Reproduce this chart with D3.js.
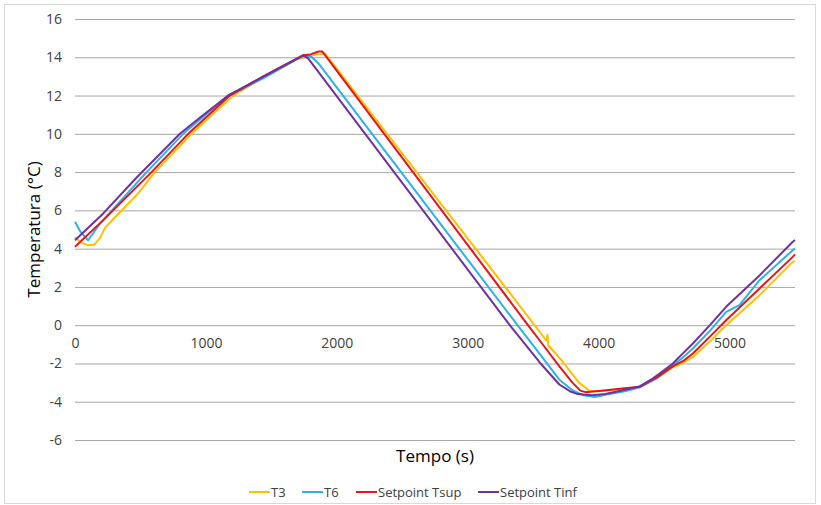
<!DOCTYPE html>
<html>
<head>
<meta charset="utf-8">
<script src="https://cdn.jsdelivr.net/npm/d3@7"></script>
<style>
  html, body { margin: 0; padding: 0; background: #fff; }
  svg { display: block; }
</style>
</head>
<body>
<div id="chart"></div>
<script>
// ── Data ──────────────────────────────────────────────────────────────
const xTicks = [0, 1000, 2000, 3000, 4000, 5000];
const yTicks = [-6, -4, -2, 0, 2, 4, 6, 8, 10, 12, 14, 16];

const seriesNames = ['T3', 'T6', 'Setpoint Tsup', 'Setpoint Tinf'];

const t3Time = [0, 50, 100, 150, 190, 230, 300, 471, 611, 890, 1209, 1440, 1700, 1850, 1910,
  3511, 3600, 3610, 3615, 3700, 3850, 3930, 4000, 4150, 4313, 4450, 4567, 4650, 4720, 4850, 4974,
  5229, 5483, 5500];
const t3Temp = [4.6, 4.3, 4.18, 4.22, 4.55, 5.1, 5.6, 6.8, 8.0, 10.0, 12.0, 12.95, 13.9, 14.15, 14.2,
  0.0, -0.8, -0.5, -1.05, -1.7, -3.0, -3.43, -3.45, -3.35, -3.25, -2.75, -2.2, -1.95, -1.66, -0.85, 0.0,
  1.57, 3.31, 3.35];

const t6Time = [0, 40, 100, 190, 547, 827, 1170, 1437, 1692, 1760, 1810, 1860,
  3380, 3550, 3700, 3800, 3880, 3970, 4080, 4200, 4313, 4450, 4567, 4650, 4720, 4850, 4974, 5076,
  5229, 5483, 5500];
const t6Temp = [5.4, 4.9, 4.44, 5.3, 8.0, 10.0, 12.0, 12.9, 13.89, 14.1, 14.0, 13.68,
  0.0, -1.5, -2.85, -3.4, -3.66, -3.75, -3.6, -3.45, -3.25, -2.75, -2.1, -1.65, -1.22, -0.3, 0.7, 1.05,
  2.35, 3.92, 4.0];

const supTime = [0, 216, 585, 865, 1183, 1437, 1740, 1800, 1860, 1890,
  3460, 3550, 3700, 3800, 3860, 3900, 4060, 4200, 4313, 4450, 4567, 4650, 4720, 4850, 4974,
  5229, 5483, 5500];
const supTemp = [4.1, 5.49, 8.0, 10.0, 12.0, 13.0, 14.1, 14.15, 14.3, 14.3,
  0.0, -0.8, -2.15, -3.0, -3.42, -3.5, -3.4, -3.3, -3.22, -2.7, -2.15, -1.85, -1.48, -0.6, 0.26,
  1.92, 3.57, 3.7];

const infTime = [0, 216, 471, 801, 980, 1180, 1437, 1743, 1781,
  3321, 3550, 3700, 3780, 3840, 3950, 4050, 4150, 4313, 4400, 4466, 4567, 4640, 4720, 4850, 4974,
  5229, 5483, 5500];
const infTemp = [4.44, 5.84, 7.72, 10.0, 10.98, 12.05, 12.98, 14.1, 13.94,
  0.0, -1.95, -3.1, -3.45, -3.6, -3.66, -3.6, -3.45, -3.2, -2.85, -2.53, -2.0, -1.5, -0.96, 0.0, 0.96,
  2.6, 4.36, 4.45];

// ── Setup ─────────────────────────────────────────────────────────────
const width = 821;
const height = 505;
const font = 'Open Sans, Noto Sans, sans-serif';
const colors = ['#FFC000', '#2DB2E8', '#E8141B', '#7030A0'];

const svg = d3.select('#chart')
  .append('svg')
  .attr('width', width)
  .attr('height', height);

// outer chart frame
svg.append('rect')
  .attr('x', 4.5).attr('y', 4.5)
  .attr('width', 811).attr('height', 499)
  .attr('fill', '#fff')
  .attr('stroke', '#d9d9d9')
  .attr('stroke-width', 1);

const x = d3.scaleLinear().domain([0, 5500]).range([75, 795]);
const y = d3.scaleLinear().domain([-6, 16]).range([440, 19]);

// gridlines + y tick labels
const yAxis = d3.axisLeft(y)
  .tickValues(yTicks)
  .tickSize(-(x.range()[1] - x.range()[0]))
  .tickPadding(13)
  .tickFormat(d3.format('d'));

const gy = svg.append('g')
  .attr('transform', `translate(${x.range()[0]},0)`)
  .call(yAxis);
gy.select('.domain').remove();
gy.selectAll('line').attr('stroke', '#a6a6a6').attr('stroke-width', 1);
gy.selectAll('text')
  .attr('fill', '#404040')
  .attr('font-size', '14px')
  .attr('font-family', font)
  .text(d => d < 0 ? '-' + Math.abs(d) : d);

// x tick labels sit under the zero line
const xAxis = d3.axisBottom(x)
  .tickValues(xTicks)
  .tickSize(0)
  .tickPadding(13)
  .tickFormat(d3.format('d'));

const gx = svg.append('g')
  .attr('transform', `translate(0,${y(0)})`)
  .call(xAxis);
gx.select('.domain').remove();
gx.selectAll('text')
  .attr('fill', '#404040')
  .attr('font-size', '14px')
  .attr('font-family', font);

// ── Series ────────────────────────────────────────────────────────────
const line = d3.line()
  .x(d => x(d[0]))
  .y(d => y(d[1]));

const series = [
  d3.zip(t3Time, t3Temp),
  d3.zip(t6Time, t6Temp),
  d3.zip(supTime, supTemp),
  d3.zip(infTime, infTemp)
];

series.forEach((pts, i) => {
  svg.append('path')
    .datum(pts)
    .attr('fill', 'none')
    .attr('stroke', colors[i])
    .attr('stroke-width', 2)
    .attr('stroke-linejoin', 'round')
    .attr('d', line);
});

// ── Axis titles ───────────────────────────────────────────────────────
svg.append('text')
  .attr('transform', `translate(33,${(y.range()[0] + y.range()[1]) / 2}) rotate(-90)`)
  .attr('text-anchor', 'middle')
  .attr('dominant-baseline', 'central')
  .attr('fill', '#000')
  .attr('font-size', '17px')
  .attr('font-family', font)
  .text('Temperatura (°C)');

svg.append('text')
  .attr('x', (x.range()[0] + x.range()[1]) / 2).attr('y', 455)
  .attr('text-anchor', 'middle')
  .attr('dominant-baseline', 'central')
  .attr('fill', '#000')
  .attr('font-size', '17px')
  .attr('font-family', font)
  .text('Tempo (s)');

// ── Legend ────────────────────────────────────────────────────────────
const legendX = [249, 302, 356, 478];
const legendY = 492;

seriesNames.forEach((name, i) => {
  const g = svg.append('g').attr('transform', `translate(${legendX[i]},${legendY})`);
  g.append('line')
    .attr('x1', 0).attr('x2', 21)
    .attr('y1', 0).attr('y2', 0)
    .attr('stroke', colors[i])
    .attr('stroke-width', 2);
  g.append('text')
    .attr('x', 22).attr('y', 0)
    .attr('dominant-baseline', 'central')
    .attr('fill', '#404040')
    .attr('font-size', '13px')
    .attr('font-family', font)
    .text(name);
});
</script>
</body>
</html>
